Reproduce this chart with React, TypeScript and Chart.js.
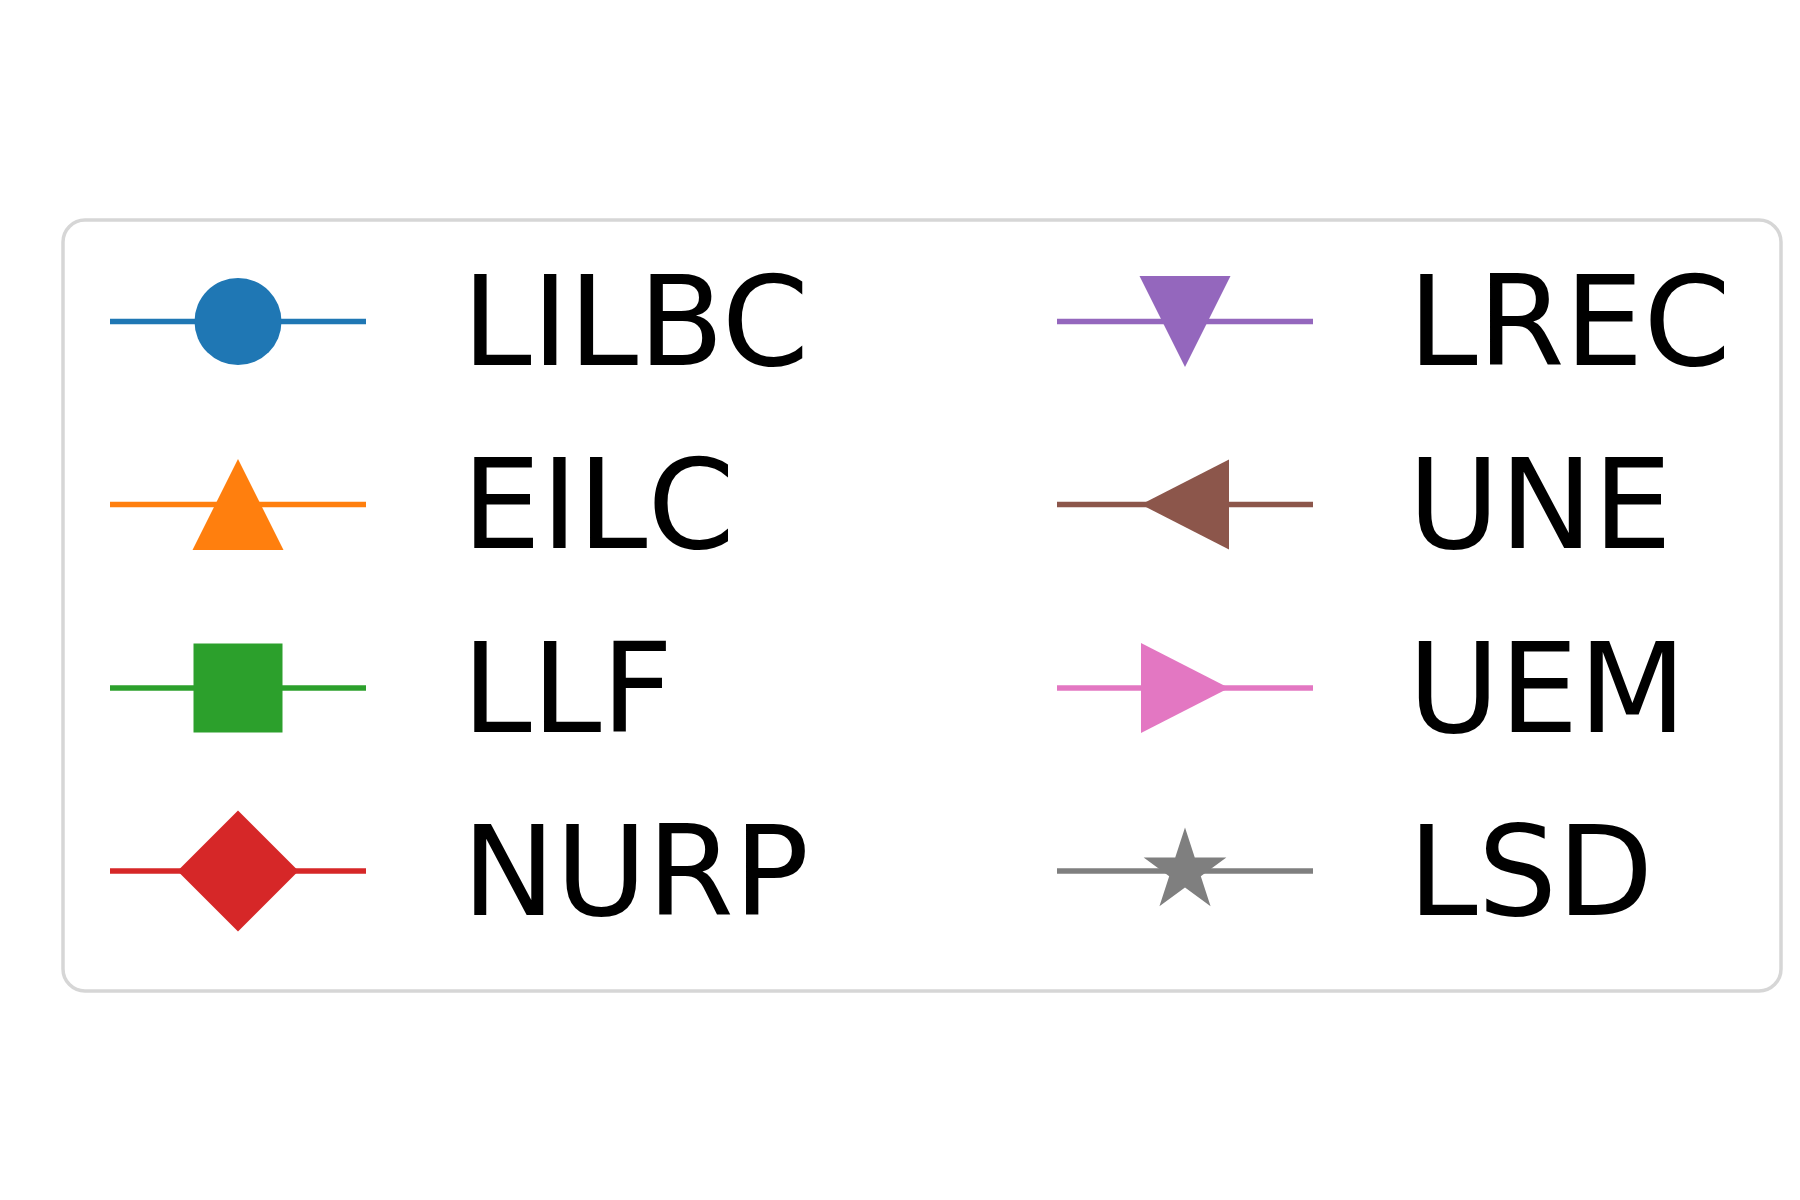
import React, { useEffect, useRef } from "react";
import { Chart, registerables } from "chart.js";

Chart.register(...registerables);

const seriesLabels = ["LILBC", "EILC", "LLF", "NURP", "LREC", "UNE", "UEM", "LSD"];
const seriesColors = ["#1f77b4", "#ff7f0e", "#2ca02c", "#d62728", "#9467bd", "#8c564b", "#e377c2", "#7f7f7f"];
const seriesMarkers = ["circle", "triUp", "square", "diamond", "triDown", "triLeft", "triRight", "star"];
const seriesValues: number[][] = [[], [], [], [], [], [], [], []];

function drawMarker(ctx: CanvasRenderingContext2D, kind: string, x: number, y: number, color: string) {
  ctx.save();
  ctx.fillStyle = color;
  ctx.beginPath();
  const s = 44.5;
  if (kind === "circle") {
    ctx.arc(x, y, 43.5, 0, Math.PI * 2);
  } else if (kind === "triUp") {
    ctx.moveTo(x, y - 45.5); ctx.lineTo(x + 45.5, y + 45.5); ctx.lineTo(x - 45.5, y + 45.5);
  } else if (kind === "triDown") {
    ctx.moveTo(x, y + 45.5); ctx.lineTo(x + 45.5, y - 45.5); ctx.lineTo(x - 45.5, y - 45.5);
  } else if (kind === "triLeft") {
    ctx.moveTo(x - 44, y); ctx.lineTo(x + 44, y - 45); ctx.lineTo(x + 44, y + 45);
  } else if (kind === "triRight") {
    ctx.moveTo(x + 44, y); ctx.lineTo(x - 44, y - 45); ctx.lineTo(x - 44, y + 45);
  } else if (kind === "square") {
    ctx.rect(x - s, y - s, 2 * s, 2 * s);
  } else if (kind === "diamond") {
    const d = 60.5;
    ctx.moveTo(x, y - d); ctx.lineTo(x + d, y); ctx.lineTo(x, y + d); ctx.lineTo(x - d, y);
  } else if (kind === "star") {
    const R = 43.5;
    const r = R * 0.381966;
    for (let k = 0; k < 10; k++) {
      const rad = k % 2 === 0 ? R : r;
      const a = -Math.PI / 2 + (k * Math.PI) / 5;
      const px = x + rad * Math.cos(a);
      const py = y + rad * Math.sin(a);
      if (k === 0) ctx.moveTo(px, py); else ctx.lineTo(px, py);
    }
  }
  ctx.closePath();
  ctx.fill();
  ctx.restore();
}

const legendPlugin = {
  id: "gridLegend",
  afterDraw(chart: any) {
    const ctx: CanvasRenderingContext2D = chart.ctx;
    ctx.save();
    // frame
    const bx = 63, by = 220, bw = 1781 - 63, bh = 991 - 220, rr = 22;
    ctx.beginPath();
    ctx.moveTo(bx + rr, by);
    ctx.arcTo(bx + bw, by, bx + bw, by + bh, rr);
    ctx.arcTo(bx + bw, by + bh, bx, by + bh, rr);
    ctx.arcTo(bx, by + bh, bx, by, rr);
    ctx.arcTo(bx, by, bx + bw, by, rr);
    ctx.closePath();
    ctx.fillStyle = "#ffffff";
    ctx.fill();
    ctx.strokeStyle = "#d6d6d6";
    ctx.lineWidth = 3.5;
    ctx.stroke();

    const colLine = [110, 1057];
    const colText = [462, 1408];
    const rowY = [321.5, 504.5, 688, 871];
    chart.data.datasets.forEach((ds: any, i: number) => {
      const col = Math.floor(i / 4);
      const row = i % 4;
      const y = rowY[row];
      const x0 = colLine[col];
      const x1 = x0 + 256;
      ctx.beginPath();
      ctx.moveTo(x0, y);
      ctx.lineTo(x1, y);
      ctx.strokeStyle = ds.borderColor;
      ctx.lineWidth = 5.5;
      ctx.lineCap = "butt";
      ctx.stroke();
      drawMarker(ctx, ds.markerKind, (x0 + x1) / 2, y, ds.backgroundColor);
      ctx.fillStyle = "#000000";
      ctx.font = "125px 'DejaVu Sans'";
      ctx.textAlign = "left";
      ctx.textBaseline = "alphabetic";
      ctx.fillText(ds.label, colText[col], y + 43.5);
    });
    ctx.restore();
  },
};

export default function App() {
  const ref = useRef<HTMLCanvasElement | null>(null);
  useEffect(() => {
    document.body.style.margin = "0";
    const canvas = ref.current!;
    const chart = new Chart(canvas, {
      type: "line",
      data: {
        labels: [],
        datasets: seriesLabels.map((label, i) => ({
          label,
          data: seriesValues[i],
          borderColor: seriesColors[i],
          backgroundColor: seriesColors[i],
          markerKind: seriesMarkers[i],
        })) as any,
      },
      options: {
        responsive: false,
        animation: false,
        plugins: { legend: { display: false }, tooltip: { enabled: false } },
        scales: { x: { display: false }, y: { display: false } },
      },
      plugins: [legendPlugin],
    });
    return () => chart.destroy();
  }, []);
  return (
    <div style={{ position: "absolute", left: 0, top: 0, width: 1800, height: 1200, background: "#fff" }}>
      <canvas ref={ref} width={1800} height={1200} />
    </div>
  );
}
